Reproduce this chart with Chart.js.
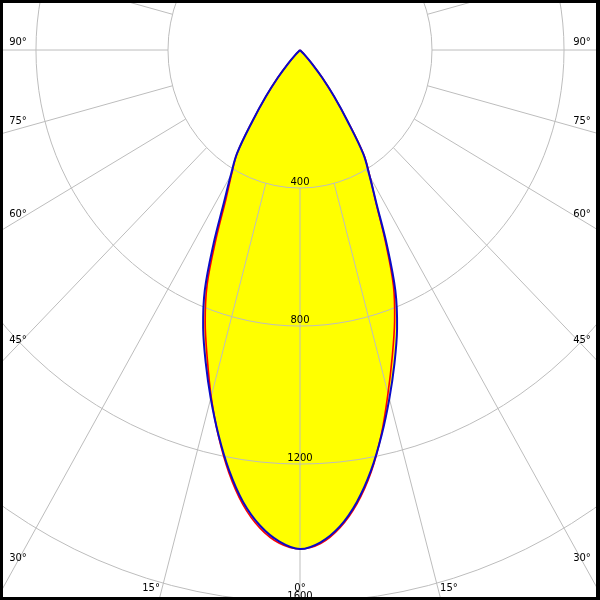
<!DOCTYPE html>
<html>
<head>
<meta charset="utf-8">
<script src="https://cdn.jsdelivr.net/npm/chart.js@4.4.0/dist/chart.umd.min.js"></script>
<style>
  body { margin: 0; background: #fff; }
  canvas { display: block; }
</style>
</head>
<body>
<canvas id="polarChart" width="600" height="600"></canvas>
<script>
// gamma angles (deg) from the downward axis
const angles = [0, 2.5, 5, 7.5, 10, 12.5, 15, 17.5, 20, 22.5, 25, 27.5, 30, 32.5, 35, 37.5, 40, 42.5, 45, 50, 60, 70, 80, 90];
// intensities (cd) - blue plane C0 / C180
const blueRight = [1446, 1428, 1386, 1321, 1238, 1143, 1046, 952, 860, 755, 622, 502, 422, 357, 250, 170, 105, 55, 20, 0, 0, 0, 0, 0];
const blueLeft  = [1446, 1426, 1384, 1321, 1237, 1142, 1045, 950, 858, 754, 620, 500, 420, 355, 250, 170, 105, 55, 20, 0, 0, 0, 0, 0];
// red plane C90 / C270
const redRight  = [1446, 1432, 1390, 1326, 1242, 1140, 1030, 930, 838, 740, 612, 498, 424, 360, 252, 170, 105, 55, 20, 0, 0, 0, 0, 0];
const redLeft   = [1446, 1431, 1391, 1328, 1243, 1144, 1040, 935, 840, 735, 600, 485, 414, 354, 250, 170, 105, 55, 20, 0, 0, 0, 0, 0];
// grid
const ringValues = [400, 800, 1200, 1600, 2000];
const ringLabels = ['400', '800', '1200', '1600'];
const angleTicks = [0, 15, 30, 45, 60, 75, 90];

const rad = d => d * Math.PI / 180;

// closed curve: left side from 90 deg down to 0, then right side 0 -> 90
function curve(left, right) {
    const pts = [];
    for (let i = angles.length - 1; i >= 0; i--) {
        const a = rad(angles[i]);
        pts.push({ x: -left[i] * Math.sin(a), y: -left[i] * Math.cos(a) });
    }
    for (let i = 1; i < angles.length; i++) {
        const a = rad(angles[i]);
        pts.push({ x: right[i] * Math.sin(a), y: -right[i] * Math.cos(a) });
    }
    return pts;
}

const gridPlugin = {
    id: 'polarGrid',
    afterDatasetDraw(chart, args) {
        if (args.index !== 0) return;
        const ctx = chart.ctx;
        const xs = chart.scales.x, ys = chart.scales.y;
        const cx = xs.getPixelForValue(0), cy = ys.getPixelForValue(0);
        const px = v => xs.getPixelForValue(v) - cx;
        const py = v => cy - ys.getPixelForValue(v);

        ctx.save();
        ctx.strokeStyle = '#bdbdbd';
        ctx.lineWidth = 1;
        ringValues.forEach(r => {
            ctx.beginPath();
            ctx.ellipse(cx, cy, px(r), py(r), 0, 0, Math.PI * 2);
            ctx.stroke();
        });
        for (let d = 0; d < 360; d += 15) {
            const a = rad(d);
            ctx.beginPath();
            ctx.moveTo(cx + px(ringValues[0]) * Math.sin(a), cy + py(ringValues[0]) * Math.cos(a));
            ctx.lineTo(cx + px(3000) * Math.sin(a), cy + py(3000) * Math.cos(a));
            ctx.stroke();
        }

        ctx.fillStyle = '#000';
        ctx.font = '10px "DejaVu Sans"';
        ctx.textAlign = 'center';
        ctx.textBaseline = 'middle';
        ringLabels.forEach(t => {
            ctx.fillText(t, cx, cy + py(+t) - 6);
        });

        // angle labels where the rays leave the frame
        const h = chart.height;
        const sideX = cx - 18, bottomY = h - 12 - cy;
        angleTicks.forEach(d => {
            const a = rad(d);
            const dx = px(1) * Math.sin(a), dy = py(1) * Math.cos(a);
            const tSide = dx > 0 ? sideX / dx : Infinity;
            const tBot = dy > 0 ? bottomY / dy : Infinity;
            let ox, oy;
            if (tSide < tBot) {
                ox = sideX;
                oy = tSide * dy - 8 * Math.sin(a) * Math.sin(a);
            } else {
                ox = tBot * dx + (d > 0 ? 11 : 0);
                oy = bottomY;
            }
            const label = d + '\u00b0';
            ctx.fillText(label, cx - ox, cy + oy);
            if (d > 0) ctx.fillText(label, cx + ox, cy + oy);
        });
        ctx.restore();
    },
    afterDraw(chart) {
        const ctx = chart.ctx;
        ctx.save();
        ctx.fillStyle = '#000';
        ctx.fillRect(0, 0, chart.width, 3);
        ctx.fillRect(0, chart.height - 3, chart.width, 3);
        ctx.fillRect(0, 0, 3, chart.height);
        ctx.fillRect(chart.width - 4, 0, 4, chart.height);
        ctx.restore();
    }
};

new Chart(document.getElementById('polarChart'), {
    type: 'scatter',
    data: {
        datasets: [{
            label: 'fill',
            data: curve(blueLeft, blueRight),
            showLine: true,
            tension: 0.35,
            fill: 'shape',
            backgroundColor: 'rgb(255,255,0)',
            borderWidth: 0,
            pointRadius: 0,
            order: 3
        }, {
            label: 'C90-C270',
            data: curve(redLeft, redRight),
            showLine: true,
            tension: 0.35,
            fill: false,
            borderColor: 'rgb(255,0,0)',
            borderWidth: 1.6,
            pointRadius: 0,
            order: 2
        }, {
            label: 'C0-C180',
            data: curve(blueLeft, blueRight),
            showLine: true,
            tension: 0.35,
            fill: false,
            borderColor: 'rgb(10,10,200)',
            borderWidth: 2,
            pointRadius: 0,
            order: 1
        }]
    },
    options: {
        responsive: false,
        animation: false,
        layout: { padding: 0 },
        plugins: { legend: { display: false }, tooltip: { enabled: false } },
        scales: {
            x: { type: 'linear', min: -909, max: 909, display: false },
            y: { type: 'linear', min: -1594, max: 145, display: false }
        }
    },
    plugins: [gridPlugin]
});
</script>
</body>
</html>
